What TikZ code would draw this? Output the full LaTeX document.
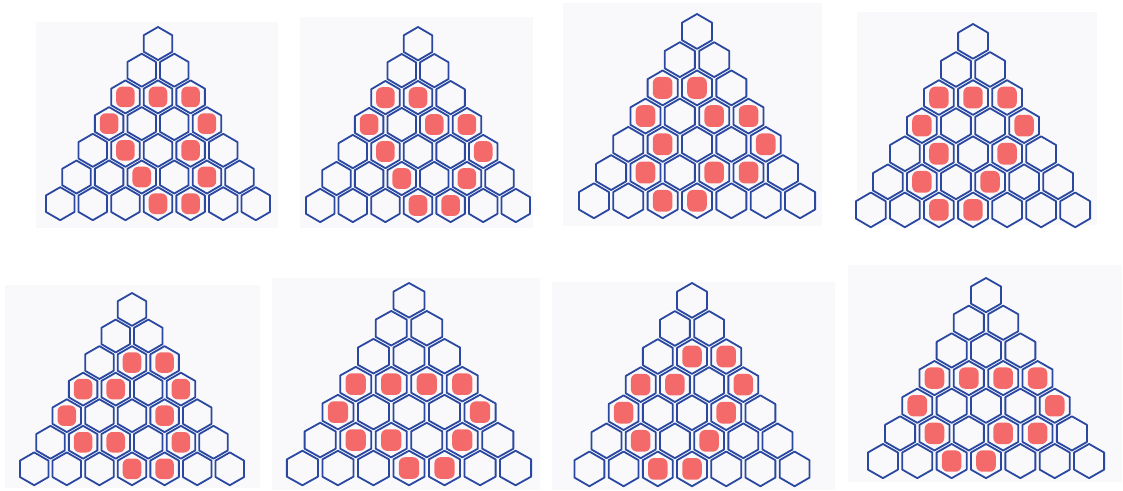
\documentclass[tikz,border=0pt]{standalone}
\definecolor{hexblue}{RGB}{42,72,160}
\definecolor{blobred}{RGB}{244,106,106}
\definecolor{panelbg}{RGB}{249,249,251}
\tikzset{
  hexline/.style={draw=hexblue,line width=1.8pt,line join=round},
  blob/.style={fill=blobred,rounded corners=6pt},
  panelback/.style={fill=panelbg}
}
% #1 cx, #2 top, #3 xscale, #4 yscale, #5 filled cells (row/col)
\newcommand\hexpanel[5]{%
  \begin{scope}[shift={(#1,#2)},xscale=#3,yscale=#4]
    \foreach \r in {1,...,7}{
      \foreach \c in {1,...,\r}{
        \draw[hexline] ({(\c-(\r+1)/2)*32.6},{16.5+(\r-1)*26.7})
          +(14.25,-8.25) -- +(0,-16.5) -- +(-14.25,-8.25) -- +(-14.25,8.25)
          -- +(0,16.5) -- +(14.25,8.25) -- cycle;
      }
    }
    \foreach \r/\c in {#5}{
      \fill[blob] ({(\c-(\r+1)/2)*32.6},{16.5+(\r-1)*26.7})
        +(-9.3,-10.3) rectangle +(9.3,10.3);
    }
  \end{scope}%
}
\begin{document}
\begin{tikzpicture}[x=1pt,y=-1pt]
\useasboundingbox (0,0) rectangle (1123,490);
\fill[white] (0,0) rectangle (1123,490);
% panel backgrounds
\fill[panelback] (36,22) rectangle (278,228);
\fill[panelback] (300,17) rectangle (533,228);
\fill[panelback] (563,3) rectangle (822,226);
\fill[panelback] (857,12) rectangle (1097,225);
\fill[panelback] (5,285) rectangle (260,488);
\fill[panelback] (272,278) rectangle (540,490);
\fill[panelback] (552,282) rectangle (835,490);
\fill[panelback] (848,265) rectangle (1122,482);
% panels
\hexpanel{158}{27}{1}{1}{3/1,3/2,3/3,4/1,4/4,5/2,5/4,6/3,6/5,7/4,7/5}
\hexpanel{418}{27}{1}{1.01}{3/1,3/2,4/1,4/3,4/4,5/2,5/5,6/3,6/5,7/4,7/5}
\hexpanel{697}{14}{1.054}{1.057}{3/1,3/2,4/1,4/3,4/4,5/2,5/5,6/2,6/4,6/5,7/3,7/4}
\hexpanel{973}{24}{1.045}{1.052}{3/1,3/2,3/3,4/1,4/4,5/2,5/4,6/2,6/4,7/3,7/4}
\hexpanel{132}{293}{1}{0.995}{3/2,3/3,4/1,4/2,4/4,5/1,5/4,6/2,6/3,6/5,7/4,7/5}
\hexpanel{409}{283}{1.09}{1.047}{4/1,4/2,4/3,4/4,5/1,5/5,6/2,6/3,6/5,7/4,7/5}
\hexpanel{692}{283}{1.049}{1.052}{3/2,3/3,4/1,4/2,4/4,5/1,5/4,6/2,6/4,7/3,7/4}
\hexpanel{986}{278}{1.054}{1.036}{4/1,4/2,4/3,4/4,5/1,5/5,6/2,6/4,6/5,7/3,7/4}
\end{tikzpicture}
\end{document}
